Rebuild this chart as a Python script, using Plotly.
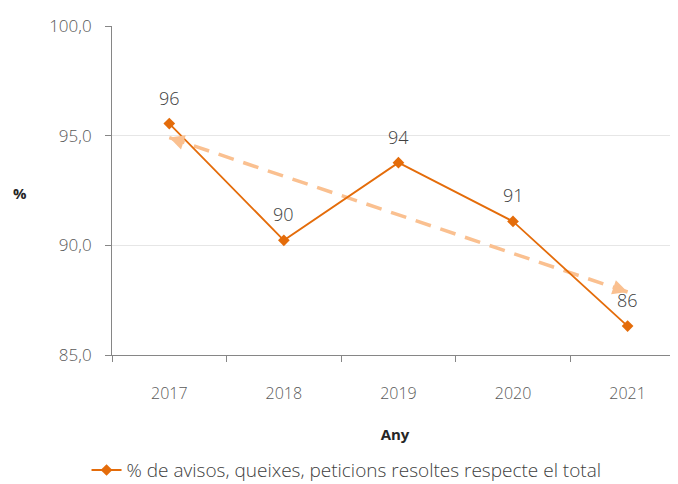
import plotly.graph_objects as go
import numpy as np

years = ["2017", "2018", "2019", "2020", "2021"]
values = [95.55, 90.23, 93.77, 91.09, 86.32]
series_name = "% de avisos, queixes, peticions resoltes respecte el total"
y_ticks = [85, 90, 95, 100]

main_color = "#E46C0A"
trend_color = "#FAC090"
text_color = "#595959"
FONT = "Open Sans"

# page body has an 8px default margin, so the figure is drawn 8px smaller
W, H = 670, 476
ML, MT, MB = 104, 18, 129
plot_w, plot_h = W - ML, H - MT - MB

# linear trend from data
xi = np.arange(len(values))
slope, intercept = np.polyfit(xi, values, 1)
trend = [float(intercept + slope * i) for i in xi]

fig = go.Figure()

fig.add_trace(go.Scatter(
    x=years, y=trend, mode="lines",
    line=dict(color=trend_color, width=3.5, dash="16px,10px"),
    showlegend=False, hoverinfo="skip",
))

fig.add_trace(go.Scatter(
    x=years, y=values, mode="lines+markers", name=series_name,
    line=dict(color=main_color, width=1.8),
    marker=dict(symbol="diamond", size=9, color=main_color),
))

# arrow heads at both ends of trend line
for (i0, i1) in [(0, 1), (4, 3)]:
    x0 = i0
    xdir = x0 + (i1 - i0) * 0.12
    fig.add_annotation(
        x=x0, y=trend[i0], ax=xdir, ay=intercept + slope * xdir,
        xref="x", yref="y", axref="x", ayref="y",
        showarrow=True, arrowhead=2, arrowsize=0.85, arrowwidth=3.5,
        arrowcolor=trend_color, text="", standoff=0,
    )

for i, v in enumerate(values):
    fig.add_annotation(
        x=i, y=v, xref="x", yref="y", text=f"{round(v):d}", showarrow=False, yshift=26,
        font=dict(family=FONT, size=18, color="#404040", weight=300),
    )

# horizontal y-axis title
fig.add_annotation(
    x=(12 - ML) / plot_w, y=(H - MB - 185) / plot_h, xref="paper", yref="paper",
    xanchor="center", yanchor="middle",
    text="<b>%</b>", showarrow=False,
    font=dict(family=FONT, size=15, color="#262626"),
)

fig.update_layout(
    width=W, height=H,
    margin=dict(l=ML, r=0, t=MT, b=MB, autoexpand=False),
    paper_bgcolor="white", plot_bgcolor="white",
    separators=",.",
    font=dict(family=FONT, color=text_color),
    showlegend=True,
    legend=dict(orientation="h", x=-0.045, xanchor="left", y=-0.35, yanchor="middle",
                font=dict(family=FONT, size=19, color="#404040", weight=300),
                itemwidth=30),
)

fig.update_xaxes(
    type="category", range=[-0.5, 4.44], automargin=False,
    showline=True, linecolor="#868686", linewidth=1,
    ticks="outside", tickson="boundaries", ticklen=6, tickcolor="#868686",
    ticklabelstandoff=24,
    tickfont=dict(family=FONT, size=16, color=text_color, weight=300),
    showgrid=False,
    title=dict(text="<b>Any</b>", font=dict(family=FONT, size=15, color="#262626"), standoff=26),
)

fig.update_yaxes(
    range=[85, 100], tickvals=y_ticks, tickformat=".1f", automargin=False,
    showline=True, linecolor="#868686", linewidth=1,
    ticks="outside", ticklen=6, tickcolor="#868686",
    ticklabelstandoff=10,
    tickfont=dict(family=FONT, size=17, color=text_color, weight=300),
    showgrid=True, gridcolor="#E6E6E6", gridwidth=1,
    zeroline=False,
)

fig.write_html("out.html")
